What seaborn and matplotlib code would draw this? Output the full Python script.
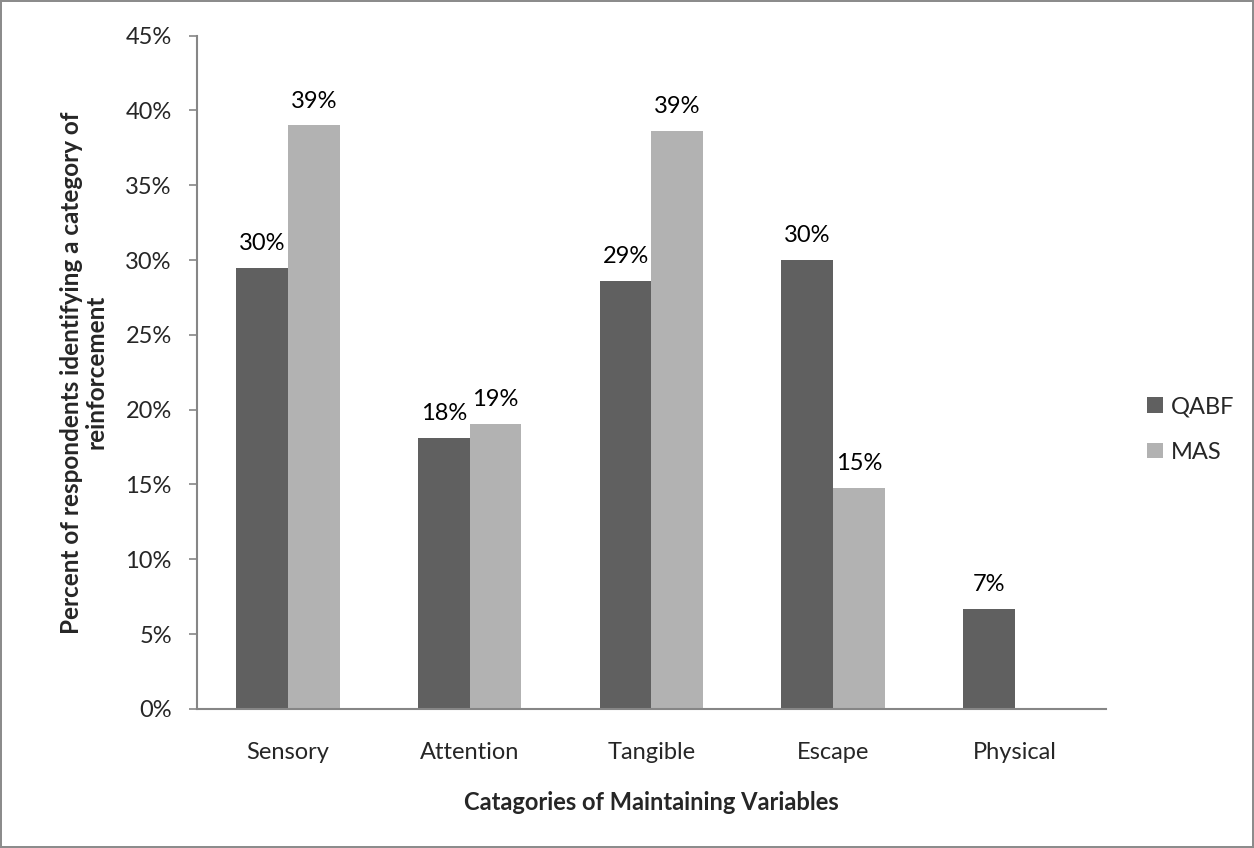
import matplotlib
matplotlib.use("Agg")
import matplotlib.pyplot as plt
import seaborn as sns
import pandas as pd
from matplotlib.patches import Patch

categories = ["Sensory", "Attention", "Tangible", "Escape", "Physical"]
qabf = [29.5, 18.1, 28.6, 30.0, 6.7]
mas = [39.0, 19.05, 38.6, 14.75, 0.0]
series = ["QABF", "MAS"]
colors = ["#606060", "#b2b2b2"]
yticks = [0, 5, 10, 15, 20, 25, 30, 35, 40, 45]

df = pd.DataFrame({
    "category": categories * 2,
    "series": [series[0]] * len(categories) + [series[1]] * len(categories),
    "value": qabf + mas,
})

sns.set_style("white")
plt.rcParams["font.family"] = ["Lato", "DejaVu Sans"]
FS = 17

fig = plt.figure(figsize=(12.54, 8.48), dpi=100)
fig.patch.set_edgecolor("#8c8c8c")
fig.patch.set_linewidth(1.5)
ax = fig.add_axes([0.157, 0.164, 0.725, 0.794])

sns.barplot(data=df, x="category", y="value", hue="series", order=categories,
            hue_order=series, palette=colors, width=0.57, ax=ax,
            edgecolor="none", linewidth=0, legend=False, errorbar=None)

# value labels above each bar (none for empty bars)
for cont in ax.containers:
    vals = [r.get_height() for r in cont]
    labels = [f"{round(v)}%" if v > 0 else "" for v in vals]
    ax.bar_label(cont, labels=labels, padding=10, fontsize=FS, color="black")

ax.set_ylim(0, 45)
ax.set_xlim(-0.5, len(categories) - 0.5)
ax.set_yticks(yticks)
ax.set_yticklabels([f"{t}%" for t in yticks], fontsize=FS)
ax.tick_params(axis="x", length=0, pad=24, labelsize=FS)
ax.tick_params(axis="y", length=6, width=1.2, color="#868686", direction="out", pad=12, left=True)

for side in ["top", "right"]:
    ax.spines[side].set_visible(False)
for side in ["left", "bottom"]:
    ax.spines[side].set_color("#868686")
    ax.spines[side].set_linewidth(1.5)

ax.set_xlabel("Catagories of Maintaining Variables", fontsize=FS, fontweight="bold", labelpad=20)
ax.set_ylabel("Percent of respondents identifying a category of\nreinforcement",
              fontsize=17.5, fontweight="bold", labelpad=13, linespacing=1.05)

handles = [Patch(facecolor=c, edgecolor="none") for c in colors]
fig.legend(handles, series, loc="center left", bbox_to_anchor=(0.915, 0.4935),
           frameon=False, fontsize=FS, handlelength=0.65, handleheight=0.65,
           handletextpad=0.35, labelspacing=1.05, borderpad=0, borderaxespad=0)

fig.savefig("out.png", dpi=100)
